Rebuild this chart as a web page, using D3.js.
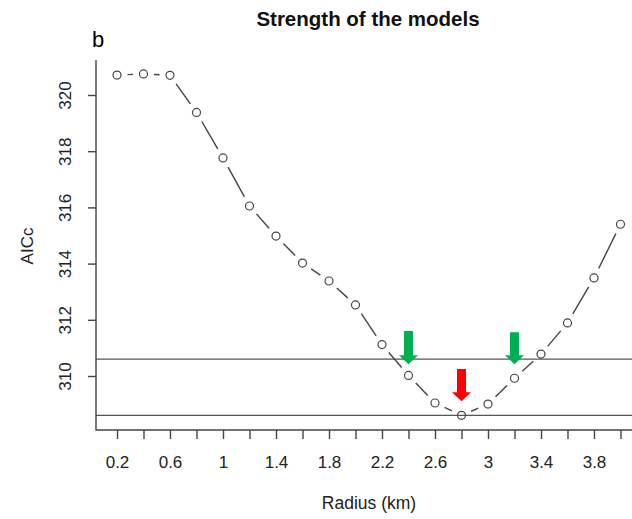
<!DOCTYPE html>
<html>
<head>
<meta charset="utf-8">
<script src="https://cdn.jsdelivr.net/npm/d3@7"></script>
<style>
  body { margin: 0; background: #fff; }
  svg { display: block; font-family: "Liberation Sans", Arial, sans-serif; }
</style>
</head>
<body>
<div id="chart_div"></div>
<script>
// data
radius = [0.2, 0.4, 0.6, 0.8, 1.0, 1.2, 1.4, 1.6, 1.8, 2.0,
          2.2, 2.4, 2.6, 2.8, 3.0, 3.2, 3.4, 3.6, 3.8, 4.0];
aicc = [320.71, 320.75, 320.70, 319.38, 317.76, 316.05, 314.98, 314.02, 313.38, 312.53,
        311.12, 310.02, 309.04, 308.60, 309.00, 309.92, 310.78, 311.89, 313.49, 315.40];
hlines = [310.6, 308.6];
xTicks = [0.2, 0.4, 0.6, 0.8, 1.0, 1.2, 1.4, 1.6, 1.8, 2.0,
          2.2, 2.4, 2.6, 2.8, 3.0, 3.2, 3.4, 3.6, 3.8, 4.0];
xLabels = ['0.2', '0.6', '1', '1.4', '1.8', '2.2', '2.6', '3', '3.4', '3.8'];
yTicks = [310, 312, 314, 316, 318, 320];
// arrows: radius, top and tip (AICc units)
arrowX   = [2.4, 3.2, 2.8];
arrowTop = [311.60, 311.56, 310.25];
arrowTip = [310.42, 310.42, 309.10];
arrowCol = ['#00b050', '#00b050', '#ff0000'];

w = 632;
h = 519;
axis_color = '#444';
text_color = '#222';

x = d3.scaleLinear().domain([0.2, 3.8]).range([117, 594]);
y = d3.scaleLinear().domain([310, 320]).range([376, 95]);

left = 96;
bottom = 430;

svg = d3.select('#chart_div')
  .append('svg')
  .attr('width', w)
  .attr('height', h);

// title and panel letter
svg.append('text')
  .attr('x', 368).attr('y', 26)
  .attr('text-anchor', 'middle')
  .attr('font-weight', 'bold')
  .attr('font-size', 20.5)
  .attr('fill', '#111')
  .text('Strength of the models');

svg.append('text')
  .attr('x', 92).attr('y', 47)
  .attr('font-size', 22)
  .text('b');

// reference lines
svg.selectAll('.hline')
  .data(hlines)
  .enter()
  .append('line')
  .attr('x1', left).attr('x2', w)
  .attr('y1', d => y(d)).attr('y2', d => y(d))
  .attr('stroke', '#555')
  .attr('stroke-width', 1.4);

// L shaped box
svg.append('path')
  .attr('d', 'M' + left + ',60 V' + bottom + ' H' + w)
  .attr('fill', 'none')
  .attr('stroke', axis_color)
  .attr('stroke-width', 1.4);

// y axis
yAxis = svg.append('g')
  .attr('transform', 'translate(' + left + ',0)')
  .call(d3.axisLeft(y).tickValues(yTicks).tickSize(8).tickFormat(d3.format('d')));
yAxis.select('.domain').remove();
yAxis.selectAll('line').attr('stroke', axis_color).attr('stroke-width', 1.4);
yAxis.selectAll('text')
  .attr('font-size', 17)
  .attr('fill', text_color)
  .attr('text-anchor', 'middle')
  .attr('x', 0).attr('y', 0).attr('dy', 0)
  .attr('transform', 'translate(-25,0) rotate(-90)');

// x axis
xAxis = svg.append('g')
  .attr('transform', 'translate(0,' + bottom + ')')
  .call(d3.axisBottom(x).tickValues(xTicks).tickSize(9)
    .tickFormat(d => {
      s = d3.format('~g')(+d.toFixed(1));
      return xLabels.indexOf(s) >= 0 ? s : '';
    }));
xAxis.select('.domain').remove();
xAxis.selectAll('line').attr('stroke', axis_color).attr('stroke-width', 1.4);
xAxis.selectAll('text')
  .attr('font-size', 17)
  .attr('fill', text_color)
  .attr('dy', 0)
  .attr('y', 38);

// axis titles
svg.append('text')
  .attr('x', 369).attr('y', 509)
  .attr('text-anchor', 'middle')
  .attr('font-size', 17.5)
  .attr('fill', text_color)
  .text('Radius (km)');

svg.append('text')
  .attr('transform', 'translate(33,246) rotate(-90)')
  .attr('text-anchor', 'middle')
  .attr('font-size', 17)
  .attr('fill', text_color)
  .text('AICc');

// line pieces with gaps (type "b")
pts = radius.map((r, i) => [x(r), y(aicc[i])]);
gap = 10.5;
segs = [];
for (i = 0; i < pts.length - 1; i++) {
  dx = pts[i+1][0] - pts[i][0];
  dy = pts[i+1][1] - pts[i][1];
  len = Math.sqrt(dx*dx + dy*dy);
  if (len > 2*gap) {
    segs.push([pts[i][0] + dx/len*gap, pts[i][1] + dy/len*gap,
               pts[i+1][0] - dx/len*gap, pts[i+1][1] - dy/len*gap]);
  }
}
svg.selectAll('.seg')
  .data(segs)
  .enter()
  .append('line')
  .attr('x1', d => d[0]).attr('y1', d => d[1])
  .attr('x2', d => d[2]).attr('y2', d => d[3])
  .attr('stroke', '#444')
  .attr('stroke-width', 1.4);

svg.selectAll('.pt')
  .data(radius)
  .enter()
  .append('circle')
  .attr('cx', d => x(d))
  .attr('cy', (d, i) => y(aicc[i]))
  .attr('r', 4)
  .attr('fill', 'none')
  .attr('stroke', '#444')
  .attr('stroke-width', 1.2);

// arrows
svg.selectAll('.arrow')
  .data(arrowX)
  .enter()
  .append('path')
  .attr('d', (d, i) => {
    cx = x(d);
    t = y(arrowTop[i]);
    tip = y(arrowTip[i]);
    hs = tip - 9;
    return 'M' + (cx-4.5) + ',' + t + ' H' + (cx+4.5) + ' V' + hs +
      ' H' + (cx+9.5) + ' L' + cx + ',' + tip + ' L' + (cx-9.5) + ',' + hs +
      ' H' + (cx-4.5) + 'Z';
  })
  .attr('fill', (d, i) => arrowCol[i]);
</script>
</body>
</html>
